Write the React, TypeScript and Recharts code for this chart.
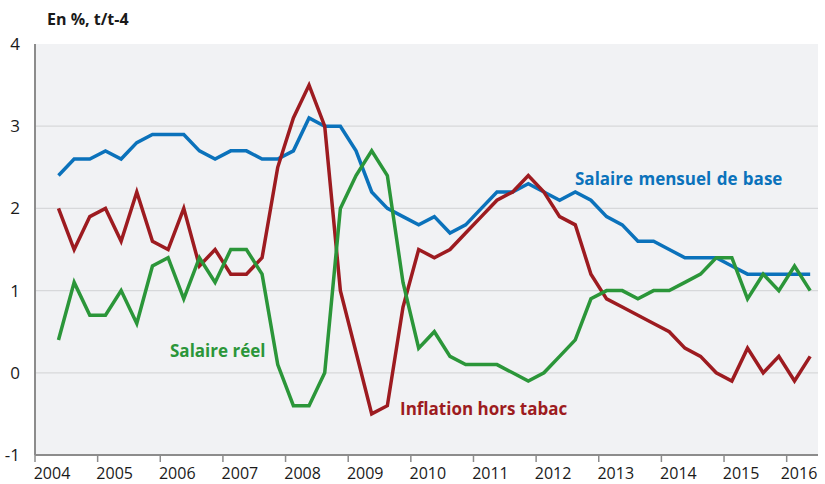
import { CartesianGrid, Line, LineChart, ReferenceLine, XAxis, YAxis } from 'recharts';

// Quarterly series, y/y growth (t/t-4), 2004T2 to 2016T2.
const quarters = [
  '2004T2', '2004T3', '2004T4',
  '2005T1', '2005T2', '2005T3', '2005T4',
  '2006T1', '2006T2', '2006T3', '2006T4',
  '2007T1', '2007T2', '2007T3', '2007T4',
  '2008T1', '2008T2', '2008T3', '2008T4',
  '2009T1', '2009T2', '2009T3', '2009T4',
  '2010T1', '2010T2', '2010T3', '2010T4',
  '2011T1', '2011T2', '2011T3', '2011T4',
  '2012T1', '2012T2', '2012T3', '2012T4',
  '2013T1', '2013T2', '2013T3', '2013T4',
  '2014T1', '2014T2', '2014T3', '2014T4',
  '2015T1', '2015T2', '2015T3', '2015T4',
  '2016T1', '2016T2',
];

const salaireBase = [
  2.4, 2.6, 2.6, 2.7, 2.6, 2.8, 2.9, 2.9,
  2.9, 2.7, 2.6, 2.7, 2.7, 2.6, 2.6, 2.7,
  3.1, 3.0, 3.0, 2.7, 2.2, 2.0, 1.9, 1.8, 1.9,
  1.7, 1.8, 2.0, 2.2, 2.2, 2.3, 2.2, 2.1,
  2.2, 2.1, 1.9, 1.8, 1.6, 1.6, 1.5, 1.4,
  1.4, 1.4, 1.3, 1.2, 1.2, 1.2, 1.2, 1.2,
];

const inflation = [
  2.0, 1.5, 1.9, 2.0, 1.6, 2.2, 1.6, 1.5,
  2.0, 1.3, 1.5, 1.2, 1.2, 1.4, 2.5, 3.1,
  3.5, 3.0, 1.0, 0.25, -0.5, -0.4, 0.8, 1.5, 1.4,
  1.5, 1.7, 1.9, 2.1, 2.2, 2.4, 2.2, 1.9,
  1.8, 1.2, 0.9, 0.8, 0.7, 0.6, 0.5, 0.3,
  0.2, 0.0, -0.1, 0.3, 0.0, 0.2, -0.1, 0.2,
];

const salaireReel = [
  0.4, 1.1, 0.7, 0.7, 1.0, 0.6, 1.3, 1.4,
  0.9, 1.4, 1.1, 1.5, 1.5, 1.2, 0.1, -0.4,
  -0.4, 0.0, 2.0, 2.4, 2.7, 2.4, 1.1, 0.3, 0.5,
  0.2, 0.1, 0.1, 0.1, 0.0, -0.1, 0.0, 0.2,
  0.4, 0.9, 1.0, 1.0, 0.9, 1.0, 1.0, 1.1,
  1.2, 1.4, 1.4, 0.9, 1.2, 1.0, 1.3, 1.0,
];

const years = [2004, 2005, 2006, 2007, 2008, 2009, 2010, 2011, 2012, 2013, 2014, 2015, 2016];
const yTicks = [-1, 0, 1, 2, 3, 4];
const gridValues = [0, 1, 2, 3];

const BLUE = '#0b72bb';
const GREEN = '#2b9639';
const RED = '#9d1b20';
const AXIS = '#8c8c8c';
const FONT = '"Open Sans", "DejaVu Sans", sans-serif';

// place each quarter in the middle of its quarter band
function quarterToX(q: string) {
  return Number(q.slice(0, 4)) + (Number(q.slice(5)) - 1) / 4 + 0.125;
}

const rows = quarters.map((q, i) => ({
  t: quarterToX(q),
  base: salaireBase[i],
  inflation: inflation[i],
  reel: salaireReel[i],
}));

function XTick({ x, y, payload }: any) {
  const cx = Math.min(x + 17, 799);
  return (
    <text x={cx} y={y + 15} textAnchor="middle" fontSize={16} fill="#1a1a1a" fontFamily={FONT}>
      {payload.value}
    </text>
  );
}

function YTick({ y, payload }: any) {
  return (
    <text x={20} y={y + 6} textAnchor="end" fontSize={17} fill="#1a1a1a" fontFamily={FONT}>
      {payload.value}
    </text>
  );
}

export default function App() {
  return (
    <div style={{ position: 'absolute', left: 0, top: 0, width: 825, height: 484, background: '#fff' }}>
      <LineChart
        width={825}
        height={484}
        data={rows}
        margin={{ top: 44, right: 7, bottom: 0, left: 0 }}
      >
        <CartesianGrid horizontal={false} vertical={false} fill="#f1f2f4" />
        {gridValues.map((v) => (
          <ReferenceLine key={v} y={v} stroke="#d7d8da" strokeWidth={1.2} />
        ))}
        <XAxis
          dataKey="t"
          type="number"
          domain={[2004, 2016.5]}
          ticks={years}
          height={29}
          tickSize={7}
          axisLine={{ stroke: AXIS, strokeWidth: 2 }}
          tickLine={{ stroke: AXIS, strokeWidth: 1.5 }}
          tick={<XTick />}
          interval={0}
        />
        <YAxis
          type="number"
          domain={[-1, 4]}
          ticks={yTicks}
          width={35}
          tickLine={false}
          axisLine={{ stroke: AXIS, strokeWidth: 2 }}
          tick={<YTick />}
          interval={0}
        />
        <Line dataKey="base" stroke={BLUE} strokeWidth={3.5} dot={false} type="linear" isAnimationActive={false} />
        <Line dataKey="inflation" stroke={RED} strokeWidth={3.5} dot={false} type="linear" isAnimationActive={false} />
        <Line dataKey="reel" stroke={GREEN} strokeWidth={3.5} dot={false} type="linear" isAnimationActive={false} />
      </LineChart>
      <svg
        width={825}
        height={484}
        style={{ position: 'absolute', left: 0, top: 0, pointerEvents: 'none' }}
        fontFamily={FONT}
        fontWeight="bold"
      >
        <text x={47} y={25} fontSize={16} fill="#1a1a1a">En %, t/t-4</text>
        <text x={575} y={185} fontSize={17} fill={BLUE} wordSpacing={1}>Salaire mensuel de base</text>
        <text x={170} y={357} fontSize={17} fill={GREEN}>Salaire réel</text>
        <text x={400} y={415} fontSize={17} fill={RED}>Inflation hors tabac</text>
      </svg>
    </div>
  );
}
